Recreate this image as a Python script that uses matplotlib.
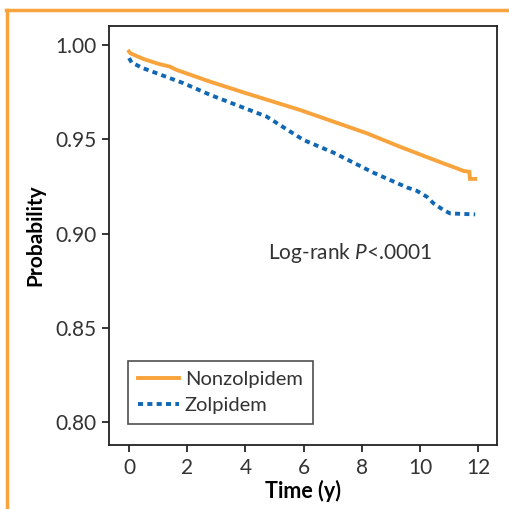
import matplotlib
matplotlib.use("Agg")
import matplotlib.pyplot as plt
from matplotlib.lines import Line2D

# Kaplan-Meier curves
time_non = [0, 0.05, 0.5, 1.0, 1.4, 1.64, 2.79, 4.0, 5.88, 8.17, 9.32,
            10.81, 11.27, 11.5, 11.7, 11.72, 11.9]
surv_non = [0.9965, 0.9955, 0.9925, 0.9900, 0.9885, 0.9867, 0.9805, 0.9745,
            0.9655, 0.9532, 0.9460, 0.9372, 0.9346, 0.9332, 0.9328,
            0.9290, 0.9290]
time_zol = [0, 0.09, 0.49, 1.87, 2.79, 4.73, 6.0, 7.03, 8.4, 9.55, 9.89,
            10.24, 10.47, 10.81, 11.04, 11.9]
surv_zol = [0.9930, 0.9906, 0.9876, 0.9797, 0.9735, 0.9620, 0.9496, 0.9429,
            0.9323, 0.9245, 0.9227, 0.9195, 0.9160, 0.9125, 0.9107, 0.9102]
labels = ["Nonzolpidem", "Zolpidem"]
xticks = [0, 2, 4, 6, 8, 10, 12]
yticks = [0.80, 0.85, 0.90, 0.95, 1.00]

orange = "#F8A33C"
blue = "#1068B4"

plt.rcParams["font.family"] = ["Lato", "DejaVu Sans"]
plt.rcParams["mathtext.fontset"] = "custom"
plt.rcParams["mathtext.it"] = "Lato:italic"

fig = plt.figure(figsize=(5.10, 5.09), dpi=100)
ax = fig.add_axes([0.2137, 0.1257, 0.7608, 0.8232])

ax.plot(time_non, surv_non, color=orange, lw=2.8, label=labels[0],
        solid_joinstyle="miter")
ax.plot(time_zol, surv_zol, color=blue, lw=2.8, ls=(0, (1.3, 1.1)),
        label=labels[1])

ax.set_xlim(-0.69, 12.65)
ax.set_ylim(0.788, 1.010)
ax.set_xticks(xticks)
ax.set_xticklabels([str(t) for t in xticks])
ax.set_yticks(yticks)
ax.set_yticklabels(["%.2f" % t for t in yticks])
ax.tick_params(direction="out", length=5, width=1.1, labelsize=15,
               labelcolor="#333333", pad=4)
for s in ax.spines.values():
    s.set_linewidth(1.3)
    s.set_color("#222222")

ax.set_xlabel("Time (y)", fontsize=15.5, fontweight="bold", labelpad=2)
ax.set_ylabel("Probability", fontsize=15, fontweight="bold", labelpad=7)

ax.text(4.78, 0.8897, "Log-rank $\\it{P}$<.0001", fontsize=15,
        color="#333333", va="center", ha="left")

leg = ax.legend(loc="lower left", bbox_to_anchor=(0.05, 0.05),
                prop={"size": 14.5},
                frameon=True, fancybox=False, edgecolor="#222222",
                handlelength=2.0, handletextpad=0.3, borderpad=0.5,
                labelspacing=0.45, borderaxespad=0)
leg.get_frame().set_linewidth(1.2)
for t in leg.get_texts():
    t.set_color("#333333")

# orange journal frame on top and left
fig.add_artist(Line2D([6 / 510, 1.0], [1 - 10 / 509, 1 - 10 / 509],
                      color=orange, lw=2.5, transform=fig.transFigure))
fig.add_artist(Line2D([7 / 510, 7 / 510], [0, 1 - 10 / 509],
                      color=orange, lw=2.5, transform=fig.transFigure))

fig.savefig("out.png", dpi=100)
